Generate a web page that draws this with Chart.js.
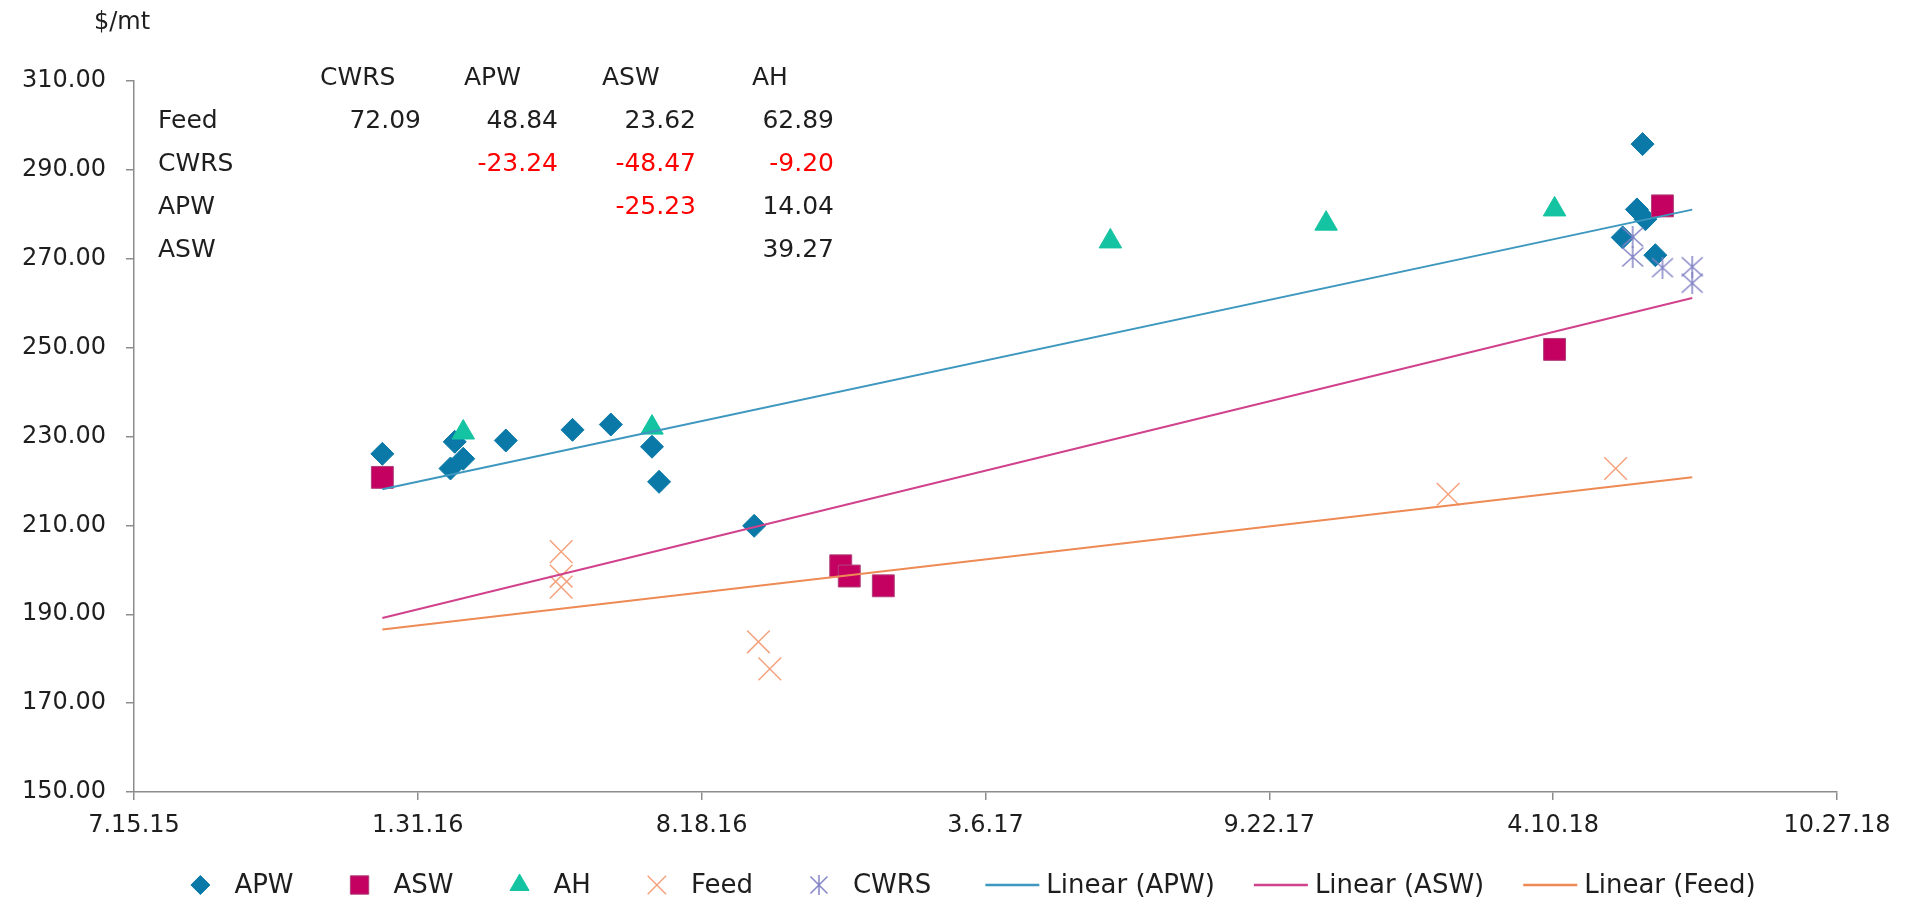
<!DOCTYPE html>
<html>
<head>
<meta charset="utf-8">
<script src="https://cdn.jsdelivr.net/npm/chart.js@4.4.0/dist/chart.umd.min.js"></script>
<style>
  html, body { margin: 0; padding: 0; background: #fff; }
  #wrap { width: 1914px; height: 900px; position: relative; }
</style>
</head>
<body>
<div id="wrap"><canvas id="priceChart"></canvas></div>
<script>
// wheat prices, $/mt, by sale date
var apwDates = ['2016-01-06', '2016-02-26', '2016-02-23', '2016-03-03', '2016-04-02', '2016-05-19', '2016-06-15', '2016-07-14', '2016-07-19', '2016-09-24', '2018-06-12', '2018-06-08', '2018-06-14', '2018-05-29', '2018-06-21'];
var apwPrices = [226.1, 228.8, 222.8, 225.0, 229.1, 231.5, 232.7, 227.7, 219.8, 209.9, 295.8, 281.1, 278.9, 274.8, 270.8];

var aswDates = ['2016-01-06', '2016-11-24', '2016-11-30', '2016-12-24', '2018-04-11', '2018-06-26'];
var aswPrices = [220.8, 200.9, 198.6, 196.4, 249.6, 281.9];

var ahDates = ['2016-03-03', '2016-07-14', '2017-06-02', '2017-11-01', '2018-04-11'];
var ahPrices = [230.9, 232.0, 273.9, 277.9, 281.1];

var feedDates = ['2016-05-11', '2016-05-11', '2016-05-11', '2016-09-27', '2016-10-05', '2018-01-26', '2018-05-24'];
var feedPrices = [204.1, 198.6, 196.1, 183.8, 177.7, 217.0, 222.8];

var cwrsDates = ['2018-06-05', '2018-06-05', '2018-06-26', '2018-07-17', '2018-07-17'];
var cwrsPrices = [274.9, 270.4, 268.0, 268.2, 264.5];

var xTickDates = ['2015-07-15', '2016-01-31', '2016-08-18', '2017-03-06', '2017-09-22', '2018-04-10', '2018-10-27'];
var yTickValues = [150, 170, 190, 210, 230, 250, 270, 290, 310];

// spread table shown in the top left corner
var tableCols = ['CWRS', 'APW', 'ASW', 'AH'];
var tableRows = ['Feed', 'CWRS', 'APW', 'ASW'];
var tableValues = [
  [72.09, 48.84, 23.62, 62.89],
  [null, -23.24, -48.47, -9.20],
  [null, null, -25.23, 14.04],
  [null, null, null, 39.27]
];

// excel style day number, so the 200 day tick steps line up
var toSerial = function(s) {
  var p = s.split('-');
  return (Date.UTC(+p[0], +p[1] - 1, +p[2]) - Date.UTC(1899, 11, 30)) / 86400000;
};
var serialLabel = function(n) {
  var d = new Date(Date.UTC(1899, 11, 30) + n * 86400000);
  return (d.getUTCMonth() + 1) + '.' + d.getUTCDate() + '.' + String(d.getUTCFullYear()).slice(2);
};

var points = function(dates, prices) {
  return dates.map(function(d, i) { return { x: toSerial(d), y: prices[i] }; });
};

// least squares line over one series, drawn across the whole data range
var allX = [].concat(apwDates, aswDates, ahDates, feedDates, cwrsDates).map(toSerial);
var minX = Math.min.apply(null, allX);
var maxX = Math.max.apply(null, allX);
var trend = function(dates, prices) {
  var xs = dates.map(toSerial);
  var n = xs.length, mx = 0, my = 0, sxy = 0, sxx = 0;
  for (var i = 0; i < n; i++) { mx += xs[i] / n; my += prices[i] / n; }
  for (var j = 0; j < n; j++) {
    sxy += (xs[j] - mx) * (prices[j] - my);
    sxx += (xs[j] - mx) * (xs[j] - mx);
  }
  var slope = sxy / sxx;
  return [minX, maxX].map(function(x) { return { x: x, y: my + slope * (x - mx) }; });
};

// excel asterisk marker: an X with a vertical bar
var asterisk = function(w, h, color) {
  var c = document.createElement('canvas');
  c.width = w; c.height = h;
  var g = c.getContext('2d');
  g.strokeStyle = color;
  g.lineWidth = 1.5;
  g.beginPath();
  g.moveTo(w / 2, 0); g.lineTo(w / 2, h);
  g.moveTo(1.5, 1.5); g.lineTo(w - 1.5, h - 1.5);
  g.moveTo(w - 1.5, 1.5); g.lineTo(1.5, h - 1.5);
  g.stroke();
  return c;
};
var cwrsColor = '#8383C6';
var cwrsMarker = asterisk(24, 22, cwrsColor);
var cwrsLegendMarker = asterisk(20, 20, cwrsColor);

var textColor = '#1E1E1E';
var axisColor = '#8C8C8C';
var font = 'DejaVu Sans';

var datasets = [
  { label: 'APW', data: points(apwDates, apwPrices), pointStyle: 'rectRot', pointRadius: 11.5,
    backgroundColor: '#0A79A8', borderColor: '#0A79A8', borderWidth: 1, order: 5, legendRadius: 9.5 },
  { label: 'ASW', data: points(aswDates, aswPrices), pointStyle: 'rect', pointRadius: 15.5,
    backgroundColor: '#C40061', borderColor: '#B0407A', borderWidth: 1, order: 4, legendRadius: 13 },
  { label: 'AH', data: points(ahDates, ahPrices), pointStyle: 'triangle', pointRadius: 13,
    backgroundColor: '#13C3A1', borderColor: '#13C3A1', borderWidth: 1, order: 3, legendRadius: 11 },
  { label: 'Feed', data: points(feedDates, feedPrices), pointStyle: 'crossRot', pointRadius: 16,
    backgroundColor: '#F4A27E', borderColor: '#F4A27E', borderWidth: 1.5, order: 2, legendRadius: 13 },
  { label: 'CWRS', data: points(cwrsDates, cwrsPrices), pointStyle: cwrsMarker, pointRadius: 12,
    backgroundColor: cwrsColor, borderColor: cwrsColor, borderWidth: 1.5, order: 1, legendMarker: cwrsLegendMarker },
  { label: 'Linear (APW)', data: trend(apwDates, apwPrices), showLine: true, pointRadius: 0,
    borderColor: '#3D97BE', borderWidth: 2, order: 0 },
  { label: 'Linear (ASW)', data: trend(aswDates, aswPrices), showLine: true, pointRadius: 0,
    borderColor: '#D0428C', borderWidth: 2, order: 0 },
  { label: 'Linear (Feed)', data: trend(feedDates, feedPrices), showLine: true, pointRadius: 0,
    borderColor: '#EE8A55', borderWidth: 2, order: 0 }
];

var overlay = {
  id: 'overlay',
  afterDraw: function(chart) {
    var ctx = chart.ctx;
    ctx.save();
    ctx.textBaseline = 'middle';

    // unit label above the value axis
    ctx.font = '24px "' + font + '"';
    ctx.fillStyle = textColor;
    ctx.textAlign = 'center';
    ctx.fillText('$/mt', 122, 23);

    // spread table
    ctx.font = '25px "' + font + '"';
    var headX = [320, 464, 602, 752];
    var colRight = [421, 558, 696, 834];
    var rowY = [121, 164, 207, 250];
    ctx.textAlign = 'left';
    tableCols.forEach(function(c, i) { ctx.fillText(c, headX[i], 78); });
    tableRows.forEach(function(r, i) {
      ctx.textAlign = 'left';
      ctx.fillStyle = textColor;
      ctx.fillText(r, 158, rowY[i]);
      ctx.textAlign = 'right';
      tableValues[i].forEach(function(v, j) {
        if (v === null) return;
        ctx.fillStyle = v < 0 ? '#FF0000' : textColor;
        ctx.fillText(v.toFixed(2), colRight[j], rowY[i]);
      });
    });

    // legend along the bottom
    ctx.font = '26px "' + font + '"';
    ctx.textAlign = 'left';
    var items = chart.data.datasets.map(function(ds) {
      var isLine = !!ds.showLine;
      var lead = isLine ? 61 : 46;
      return { ds: ds, isLine: isLine, lead: lead, w: lead + ctx.measureText(ds.label).width, gap: isLine ? 39 : 54 };
    });
    var total = 0;
    items.forEach(function(it, i) { total += it.w + (i < items.length - 1 ? it.gap : 0); });
    var x = 972 - total / 2;
    var y = 885;
    items.forEach(function(it) {
      var ds = it.ds;
      if (it.isLine) {
        ctx.strokeStyle = ds.borderColor;
        ctx.lineWidth = 2.5;
        ctx.beginPath();
        ctx.moveTo(x, y);
        ctx.lineTo(x + 54, y);
        ctx.stroke();
      } else if (ds.legendMarker) {
        ctx.drawImage(ds.legendMarker, x + 12 - ds.legendMarker.width / 2, y - ds.legendMarker.height / 2);
      } else {
        ctx.fillStyle = ds.backgroundColor;
        ctx.strokeStyle = ds.borderColor;
        ctx.lineWidth = ds.borderWidth;
        Chart.helpers.drawPoint(ctx, { pointStyle: ds.pointStyle, radius: ds.legendRadius, rotation: 0, borderWidth: ds.borderWidth }, x + 12, y);
      }
      ctx.fillStyle = textColor;
      ctx.fillText(ds.label, x + it.lead, y + 1);
      x += it.w + it.gap;
    });
    ctx.restore();
  }
};

var ctx = document.getElementById('priceChart').getContext('2d');
window.priceChart = new Chart(ctx, {
  type: 'scatter',
  data: { datasets: datasets },
  plugins: [overlay],
  options: {
    responsive: true,
    maintainAspectRatio: false,
    animation: false,
    layout: { padding: { top: 81, right: 77, left: 0, bottom: 0 } },
    scales: {
      x: {
        type: 'linear',
        min: toSerial(xTickDates[0]),
        max: toSerial(xTickDates[xTickDates.length - 1]),
        afterBuildTicks: function(scale) {
          scale.ticks = xTickDates.map(function(d) { return { value: toSerial(d) }; });
        },
        afterFit: function(scale) { scale.height = 108; },
        ticks: {
          color: textColor,
          font: { family: font, size: 24 },
          padding: 11,
          maxRotation: 0,
          callback: function(v) { return serialLabel(v); }
        },
        grid: { drawOnChartArea: false, drawTicks: true, tickLength: 8, color: axisColor, lineWidth: 1.5 },
        border: { display: true, color: axisColor, width: 1.5 }
      },
      y: {
        min: yTickValues[0],
        max: yTickValues[yTickValues.length - 1],
        afterBuildTicks: function(scale) {
          scale.ticks = yTickValues.map(function(v) { return { value: v }; });
        },
        afterFit: function(scale) { scale.width = 134; },
        ticks: {
          color: textColor,
          font: { family: font, size: 24 },
          padding: 20,
          callback: function(v) { return v.toFixed(2); }
        },
        grid: { drawOnChartArea: false, drawTicks: true, tickLength: 8, color: axisColor, lineWidth: 1.5 },
        border: { display: true, color: axisColor, width: 1.5 }
      }
    },
    plugins: {
      legend: { display: false },
      tooltip: { enabled: false }
    }
  }
});
</script>
</body>
</html>
